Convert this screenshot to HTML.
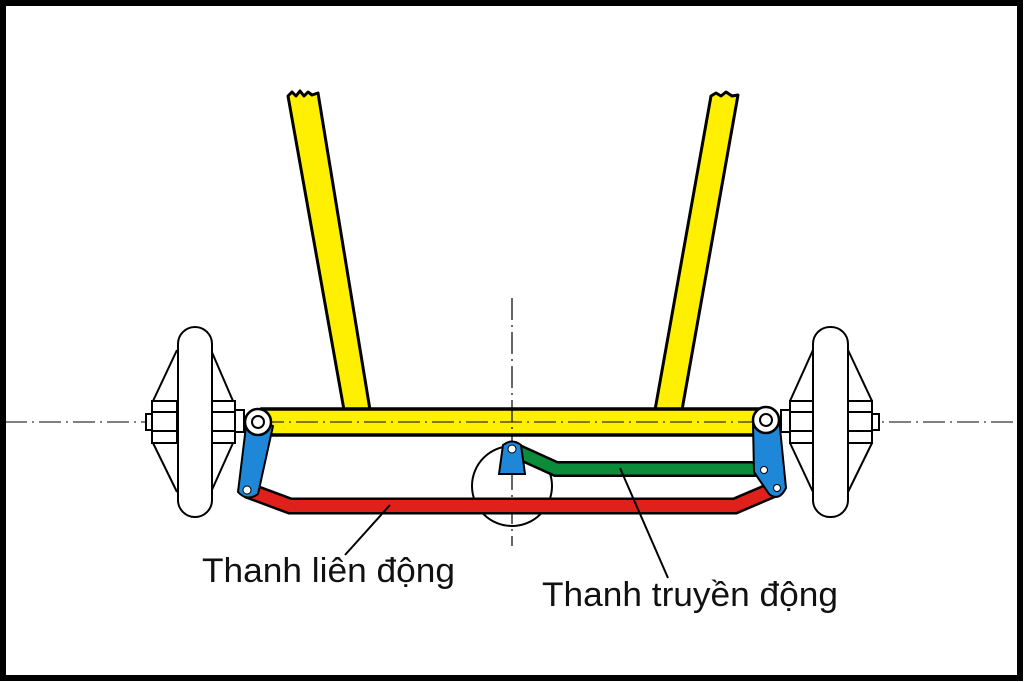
<!DOCTYPE html>
<html><head><meta charset="utf-8"><style>
html,body{margin:0;padding:0;background:#fff}
svg{display:block}
</style></head><body>
<svg width="1024" height="682" viewBox="0 0 1024 682" xmlns="http://www.w3.org/2000/svg">
<rect x="0" y="0" width="1024" height="682" fill="#fff"/>
<rect x="3" y="3" width="1017" height="675" fill="none" stroke="#000" stroke-width="6"/>

<path d="M288,96 L292,92 L296,96 L300,91 L304,96 L308,92 L312,95 L318,93 L370,410 L344,410 Z" fill="#ffef00" stroke="#000" stroke-width="3" stroke-linejoin="round"/>
<path d="M711,96 L716,93 L721,96 L726,92 L732,96 L738,95 L682,410 L655,410 Z" fill="#ffef00" stroke="#000" stroke-width="3" stroke-linejoin="round"/>

<line x1="5" y1="422" x2="1018" y2="422" stroke="#000" stroke-width="1" stroke-dasharray="22,5,2,5"/>

<g fill="#fff" stroke="#000" stroke-width="2">
 <line x1="177" y1="350" x2="153" y2="401"/><line x1="153" y1="443" x2="177" y2="492"/>
 <line x1="211" y1="350" x2="233" y2="401"/><line x1="211" y1="492" x2="233" y2="443"/>
 <rect x="146" y="414" width="7" height="16"/>
 <rect x="152" y="401" width="25" height="42"/>
 <line x1="152" y1="412" x2="177" y2="412"/><line x1="152" y1="431" x2="177" y2="431"/>
 <rect x="210" y="401" width="25" height="42"/>
 <line x1="210" y1="412" x2="235" y2="412"/><line x1="210" y1="431" x2="235" y2="431"/>
 <rect x="235" y="410" width="9" height="22"/>
 <rect x="178" y="327" width="34" height="190" rx="17"/>

 <line x1="813" y1="350" x2="790" y2="401"/><line x1="790" y1="443" x2="813" y2="492"/>
 <line x1="848" y1="350" x2="872" y2="401"/><line x1="848" y1="492" x2="872" y2="443"/>
 <rect x="781" y="410" width="9" height="22"/>
 <rect x="790" y="401" width="23" height="42"/>
 <line x1="790" y1="412" x2="813" y2="412"/><line x1="790" y1="431" x2="813" y2="431"/>
 <rect x="848" y="401" width="24" height="42"/>
 <line x1="848" y1="412" x2="872" y2="412"/><line x1="848" y1="431" x2="872" y2="431"/>
 <rect x="872" y="414" width="7" height="16"/>
 <rect x="813" y="327" width="35" height="190" rx="17"/>
</g>

<rect x="262" y="409" width="500" height="26" fill="#ffef00" stroke="#000" stroke-width="3.5"/>
<line x1="262" y1="422" x2="762" y2="422" stroke="#000" stroke-width="1" stroke-dasharray="22,5,2,5"/>

<circle cx="512" cy="486" r="40" fill="none" stroke="#000" stroke-width="2"/>
<line x1="512" y1="298" x2="512" y2="546" stroke="#000" stroke-width="1.2" stroke-dasharray="22,5,2,5"/>

<path d="M247,490 L290,506 L735,506 L777,488" fill="none" stroke="#000" stroke-width="17"/>
<path d="M247,490 L290,506 L735,506 L777,488" fill="none" stroke="#e0211b" stroke-width="12"/>

<path d="M512,449 L556,469 L762,469" fill="none" stroke="#000" stroke-width="16"/>
<path d="M512,449 L556,469 L762,469" fill="none" stroke="#0a8c3a" stroke-width="11"/>

<path d="M503,445 Q512,438 521,445 L525,474 L499,474 Z" fill="#1f87d8" stroke="#000" stroke-width="2"/>
<circle cx="512" cy="449" r="4" fill="#fff" stroke="#000" stroke-width="1"/>

<path d="M247,418 L273,426 L258,494 Q247,502 238,492 Z" fill="#1f87d8" stroke="#000" stroke-width="2" stroke-linejoin="round"/>
<circle cx="247" cy="490" r="4" fill="#fff" stroke="#000" stroke-width="1"/>
<circle cx="258" cy="422" r="13" fill="#fff" stroke="#000" stroke-width="2.5"/>
<circle cx="258" cy="422" r="6" fill="#fff" stroke="#000" stroke-width="2"/>

<path d="M753,424 L779,418 L786,488 Q779,502 769,494 L754,472 Z" fill="#1f87d8" stroke="#000" stroke-width="2" stroke-linejoin="round"/>
<circle cx="764" cy="470" r="3.5" fill="#fff" stroke="#000" stroke-width="1"/>
<circle cx="777" cy="488" r="3.5" fill="#fff" stroke="#000" stroke-width="1"/>
<circle cx="766" cy="420" r="13" fill="#fff" stroke="#000" stroke-width="2.5"/>
<circle cx="766" cy="420" r="6" fill="#fff" stroke="#000" stroke-width="2"/>

<line x1="390" y1="505" x2="345" y2="555" stroke="#000" stroke-width="2"/>
<line x1="620" y1="468" x2="668" y2="578" stroke="#000" stroke-width="2"/>

<text x="202" y="582" font-family="Liberation Sans, DejaVu Sans, sans-serif" font-size="34" textLength="253" lengthAdjust="spacingAndGlyphs" fill="#111">Thanh liên động</text>
<text x="542" y="606" font-family="Liberation Sans, DejaVu Sans, sans-serif" font-size="34" textLength="296" lengthAdjust="spacingAndGlyphs" fill="#111">Thanh truyền động</text>
</svg>
</body></html>
